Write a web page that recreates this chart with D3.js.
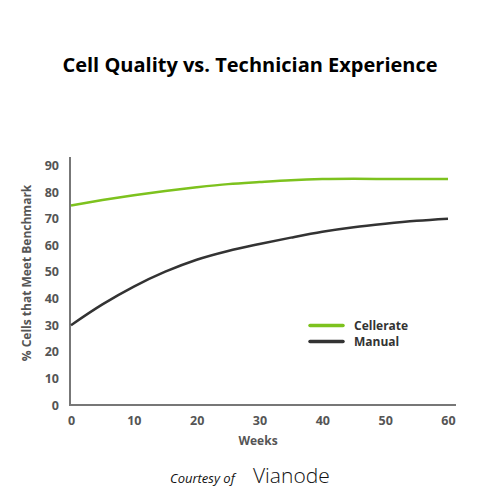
<!DOCTYPE html>
<html>
<head>
<meta charset="utf-8">
<script src="https://cdn.jsdelivr.net/npm/d3@7"></script>
<style>
  body { margin: 0; background: #fff; }
  text { font-family: "Open Sans", sans-serif; }
</style>
</head>
<body>
<div id="chart"></div>
<script>
var weeks = [0, 5, 10, 15, 20, 25, 30, 35, 40, 45, 50, 55, 60];
var cellerate = [75, 77, 78.8, 80.4, 81.8, 83, 83.8, 84.5, 84.9, 85, 84.9, 84.9, 84.9];
var manual = [30, 37.8, 44.5, 50.1, 54.6, 57.9, 60.5, 62.9, 65.1, 66.8, 68.1, 69.2, 70];
var xTicks = [0, 10, 20, 30, 40, 50, 60];
var yTicks = [0, 10, 20, 30, 40, 50, 60, 70, 80, 90];

var width = 500, height = 500;
var margin = {top: 157, right: 44, bottom: 95, left: 71};

var svg = d3.select("#chart").append("svg")
  .attr("width", width)
  .attr("height", height);

var x = d3.scaleLinear().domain([0, 60]).range([margin.left, 448]);
var y = d3.scaleLinear().domain([0, 90]).range([405, 165.5]);

// title
svg.append("text")
  .attr("x", 250).attr("y", 72)
  .attr("text-anchor", "middle")
  .style("font-size", "20px").style("font-weight", "bold").attr("fill", "#000")
  .text("Cell Quality vs. Technician Experience");

// axes
var xAxis = svg.append("g")
  .attr("transform", "translate(0," + y(0) + ")")
  .call(d3.axisBottom(x).tickValues(xTicks).tickSize(0).tickPadding(11));
var yAxis = svg.append("g")
  .attr("transform", "translate(" + (margin.left - 1) + ",0)")
  .call(d3.axisLeft(y).tickValues(yTicks).tickSize(0).tickPadding(11));

[xAxis, yAxis].forEach(function(g) {
  g.select(".domain").remove();
  g.selectAll("text")
    .attr("fill", "#555")
    .style("font-size", "12.5px")
    .style("font-weight", "bold")
    .style("font-family", "'Open Sans', sans-serif");
});

svg.append("line")
  .attr("x1", margin.left - 1).attr("x2", margin.left - 1)
  .attr("y1", margin.top).attr("y2", y(0) + 1)
  .attr("stroke", "#777").attr("stroke-width", 2);
svg.append("line")
  .attr("x1", margin.left - 2).attr("x2", 456)
  .attr("y1", y(0)).attr("y2", y(0))
  .attr("stroke", "#777").attr("stroke-width", 2);

var line = d3.line()
  .x(function(d, i) { return x(weeks[i]); })
  .y(function(d) { return y(d); })
  .curve(d3.curveCatmullRom.alpha(0.5));

svg.append("path").datum(manual)
  .attr("d", line).attr("fill", "none")
  .attr("stroke", "#333").attr("stroke-width", 2.5);
svg.append("path").datum(cellerate)
  .attr("d", line).attr("fill", "none")
  .attr("stroke", "#7dc21e").attr("stroke-width", 2.5);

// legend
var legend = [{name: "Cellerate", color: "#7dc21e"}, {name: "Manual", color: "#333"}];
legend.forEach(function(d, i) {
  var ly = 325.5 + i * 16;
  svg.append("line")
    .attr("x1", 310).attr("x2", 343)
    .attr("y1", ly).attr("y2", ly)
    .attr("stroke", d.color).attr("stroke-width", 3.5)
    .attr("stroke-linecap", "round");
  svg.append("text")
    .attr("x", 354).attr("y", ly + 4.5)
    .style("font-size", "12px").style("font-weight", "bold")
    .attr("fill", "#333")
    .text(d.name);
});

// axis labels
svg.append("text")
  .attr("x", 258).attr("y", 445)
  .attr("text-anchor", "middle")
  .style("font-size", "12px").style("font-weight", "bold").attr("fill", "#555")
  .text("Weeks");
svg.append("text")
  .attr("transform", "translate(31,273) rotate(-90)")
  .attr("text-anchor", "middle")
  .style("font-size", "12px").style("font-weight", "bold").attr("fill", "#555")
  .text("% Cells that Meet Benchmark");

// footer
svg.append("text")
  .attr("x", 170).attr("y", 483)
  .attr("fill", "#111")
  .style("font-size", "13px").style("font-style", "italic")
  .text("Courtesy of");
svg.append("text")
  .attr("x", 253).attr("y", 483)
  .attr("fill", "#111")
  .style("font-size", "21px").style("font-weight", "300")
  .text("Vianode");
</script>
</body>
</html>
